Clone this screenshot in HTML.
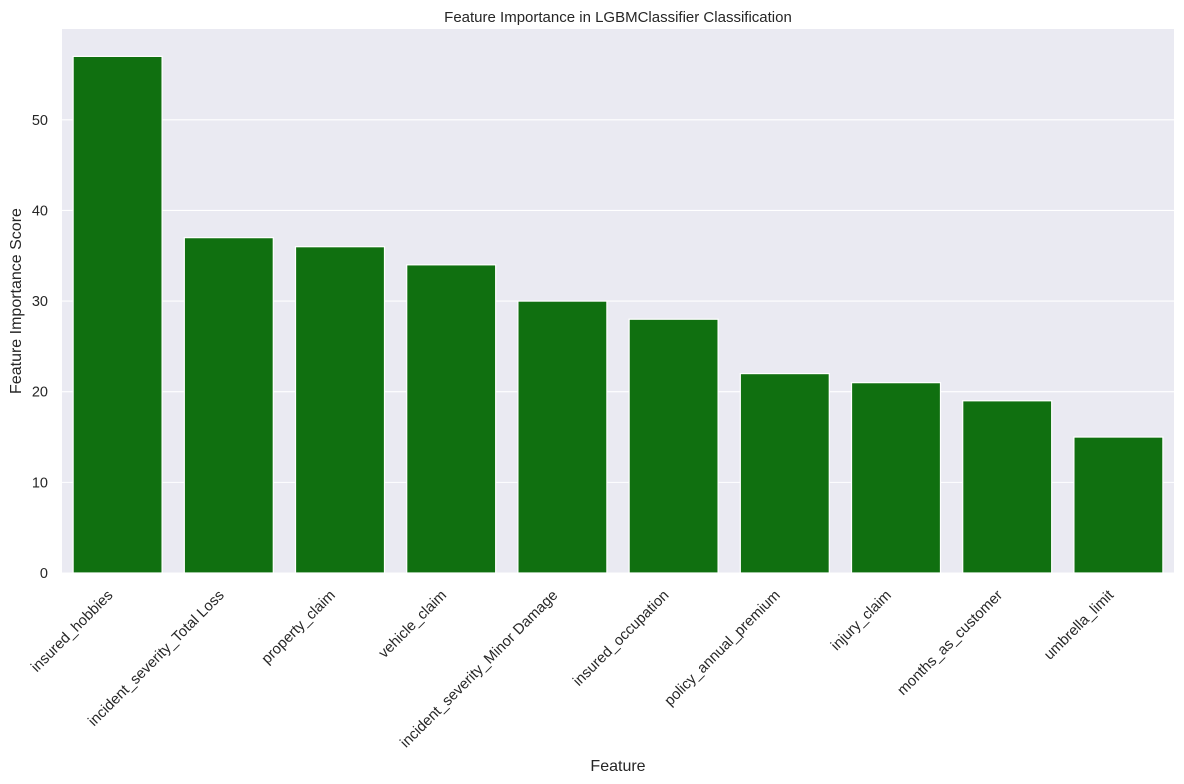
<!DOCTYPE html>
<html><head><meta charset="utf-8"><style>
body{margin:0;background:#fff;}
svg{display:block;font-family:"Liberation Sans","DejaVu Sans",sans-serif;}
</style></head><body>
<svg id="chart" width="1184" height="784">
<rect x="62" y="29" width="1112" height="544" fill="#eaeaf2"/>
<g id="grid"></g><g id="bars"></g><g id="yticks"></g><g id="xticks"></g>
<text x="618" y="22" text-anchor="middle" font-size="15" fill="#262626">Feature Importance in LGBMClassifier Classification</text>
<text x="618" y="771" text-anchor="middle" font-size="16" fill="#262626">Feature</text>
<text transform="translate(21,301) rotate(-90)" text-anchor="middle" font-size="16" fill="#262626">Feature Importance Score</text>
</svg>
<script>
const categories=["insured_hobbies","incident_severity_Total Loss","property_claim","vehicle_claim","incident_severity_Minor Damage","insured_occupation","policy_annual_premium","injury_claim","months_as_customer","umbrella_limit"];
const values=[57,37,36,34,30,28,22,21,19,15];
const yTickValues=[0,10,20,30,40,50];
const NS="http://www.w3.org/2000/svg";
const L=62,R=1174,T=29,B=573;
const yMax=Math.max(...values)*1.053;
const y=v=>B-(v/yMax)*(B-T);
const step=(R-L)/categories.length;
const x=i=>L+step*i+step/2;
function mk(tag,attrs,parent){const e=document.createElementNS(NS,tag);for(const k in attrs)e.setAttribute(k,attrs[k]);parent.appendChild(e);return e;}
const grid=document.getElementById('grid'),yt=document.getElementById('yticks'),bars=document.getElementById('bars'),xt=document.getElementById('xticks');
yTickValues.forEach(v=>{
 const l=mk('line',{x1:L,x2:R,y1:y(v),y2:y(v),stroke:'#fff','stroke-width':1.1},grid);
 
 
 const t=mk('text',{x:L-14,y:y(v)+5,'text-anchor':'end','font-size':14.5,fill:'#262626'},yt);
 t.textContent=v;
 
 
});
categories.forEach((c,i)=>{
 const w=step*0.8;
 const r=mk('rect',{x:x(i)-w/2,y:y(values[i]),width:w,height:B-y(values[i]),fill:'#107010',stroke:'#fff','stroke-width':1.2},bars);
 
 
 const t=mk('text',{transform:`translate(${x(i)-4},${B+23}) rotate(-45)`,'text-anchor':'end','font-size':14.8,fill:'#262626'},xt);
 t.textContent=c;
 
 
});
</script>
</body></html>
